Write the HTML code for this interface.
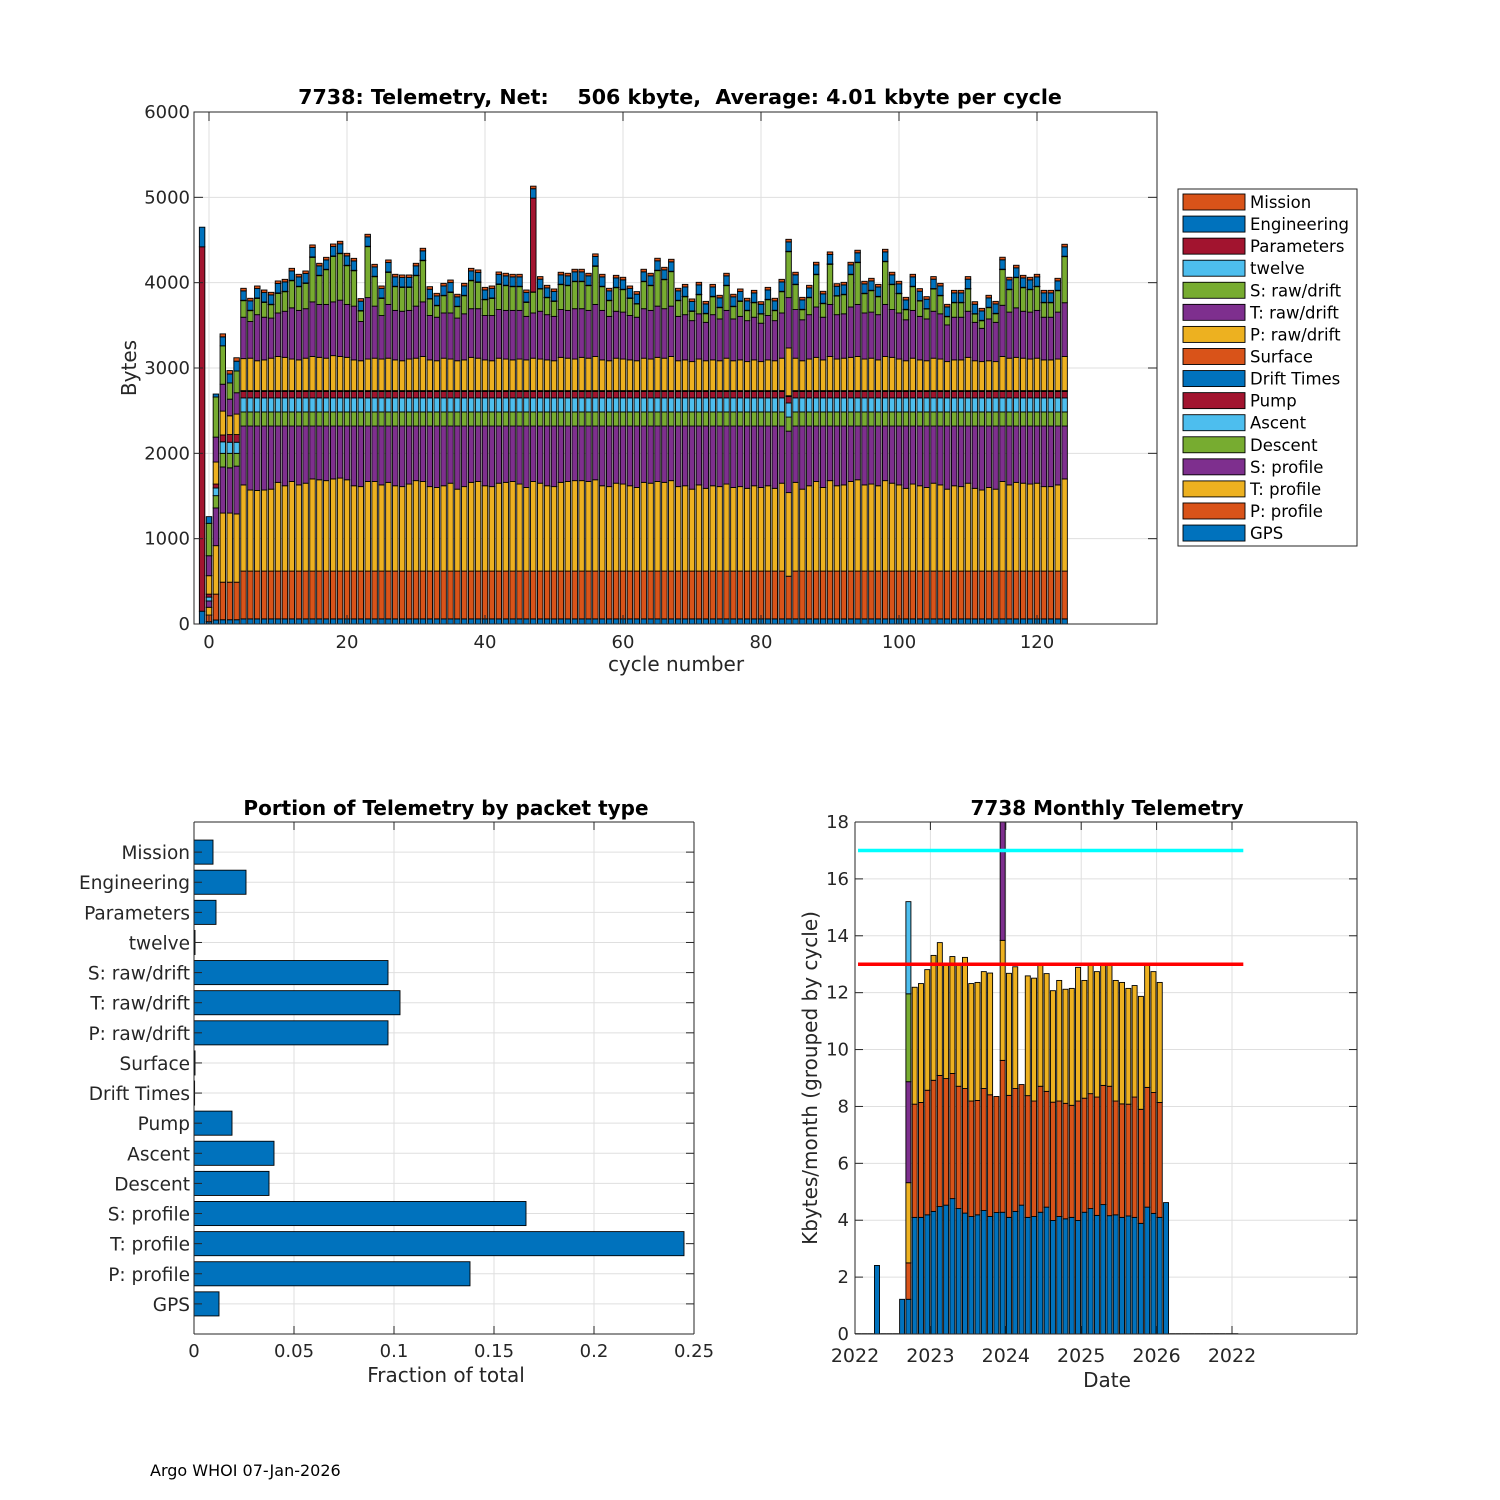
<!DOCTYPE html>
<html><head><meta charset="utf-8"><style>
html,body{margin:0;padding:0;background:#fff;}
svg{display:block;font-family:"DejaVu Sans","Liberation Sans",sans-serif;}
</style></head><body>
<svg id="fig" width="1500" height="1500" viewBox="0 0 1500 1500" xmlns="http://www.w3.org/2000/svg">
<rect x="0" y="0" width="1500" height="1500" fill="#fff"/>
<defs>
<clipPath id="clipR"><rect x="855" y="822" width="502" height="512"/></clipPath>
</defs>
<g id="top"></g>
<g id="bl"></g>
<g id="br"></g>
<text x="150" y="1476" font-size="16" fill="#000">Argo WHOI 07-Jan-2026</text>
</svg>
<script>
// ===== Top chart data (cycles -1..124) =====
const gps=[150,27,47,50,50,50,
60,60,60,60,60,60,60,60,60,60,60,60,60,60,60,60,60,60,60,60,
60,60,60,60,60,60,60,60,60,60,60,60,60,60,60,60,60,60,60,60,
60,60,60,60,60,60,60,60,60,60,60,60,60,60,60,60,60,60,60,60,
60,60,60,60,60,60,60,60,60,60,60,60,60,60,60,60,60,60,60,60,
60,60,60,60,60,60,60,60,60,60,60,60,60,60,60,60,60,60,60,60,
60,60,60,60,60,60,60,60,60,60,60,60,60,60,60,60,60,60,60,60];
const pProf=[0,78,303,440,440,440,
560,560,560,560,560,560,560,560,560,560,560,560,560,560,560,560,560,560,560,560,
560,560,560,560,560,560,560,560,560,560,560,560,560,560,560,560,560,560,560,560,
560,560,560,560,560,560,560,560,560,560,560,560,560,560,560,560,560,560,560,560,
560,560,560,560,560,560,560,560,560,560,560,560,560,560,560,560,560,560,560,500,
560,560,560,560,560,560,560,560,560,560,560,560,560,560,560,560,560,560,560,560,
560,560,560,560,560,560,560,560,560,560,560,560,560,560,560,560,560,560,560,560];
const tProf=[0,91,568,810,810,800,
1010,950,945,950,960,1040,1000,1050,1010,1030,1080,1070,1060,1080,1090,1070,1000,990,1050,1050,
1010,1040,1000,990,1020,1060,1050,990,980,1000,1030,960,990,1040,1050,1000,990,1030,1040,1050,
1020,980,1050,1030,1000,990,1040,1050,1060,1060,1050,1070,1000,990,1030,1020,1000,980,1040,1030,
1050,1040,1060,990,1000,960,1010,970,1000,990,1020,980,990,970,1000,980,1000,970,1030,980,
1040,960,1000,1050,980,1060,1000,1010,1050,1070,1010,1020,1000,1060,1030,1010,970,1020,1000,980,
1030,1010,960,1000,990,1030,970,950,980,960,1050,1010,1040,1030,1020,1030,990,990,1010,1080];
const sProf=[0,74,442,540,530,560,
690,750,755,750,740,660,700,650,690,670,620,630,640,620,610,630,700,710,650,650,
690,660,700,710,680,640,650,710,720,700,670,740,710,660,650,700,710,670,660,650,
680,720,650,670,700,710,660,650,640,640,650,630,700,710,670,680,700,720,660,670,
650,660,640,710,700,740,690,730,700,710,680,720,710,730,700,720,700,730,670,720,
660,740,700,650,720,640,700,690,650,630,690,680,700,640,670,690,730,680,700,720,
670,690,740,700,710,670,730,750,720,740,650,690,660,670,680,670,710,710,690,620];
const descent=[0,0,144,160,170,150,
165,165,165,165,165,165,165,165,165,165,165,165,165,165,165,165,165,165,165,165,
165,165,165,165,165,165,165,165,165,165,165,165,165,165,165,165,165,165,165,165,
165,165,165,165,165,165,165,165,165,165,165,165,165,165,165,165,165,165,165,165,
165,165,165,165,165,165,165,165,165,165,165,165,165,165,165,165,165,165,165,165,
165,165,165,165,165,165,165,165,165,165,165,165,165,165,165,165,165,165,165,165,
165,165,165,165,165,165,165,165,165,165,165,165,165,165,165,165,165,165,165,165];
const ascent=[0,45,90,135,130,130,
165,165,165,165,165,165,165,165,165,165,165,165,165,165,165,165,165,165,165,165,
165,165,165,165,165,165,165,165,165,165,165,165,165,165,165,165,165,165,165,165,
165,165,165,165,165,165,165,165,165,165,165,165,165,165,165,165,165,165,165,165,
165,165,165,165,165,165,165,165,165,165,165,165,165,165,165,165,165,165,165,165,
165,165,165,165,165,165,165,165,165,165,165,165,165,165,165,165,165,165,165,165,
165,165,165,165,165,165,165,165,165,165,165,165,165,165,165,165,165,165,165,165];
const pump=[0,35,46,80,90,90,
75,75,75,75,75,75,75,75,75,75,75,75,75,75,75,75,75,75,75,75,
75,75,75,75,75,75,75,75,75,75,75,75,75,75,75,75,75,75,75,75,
75,75,75,75,75,75,75,75,75,75,75,75,75,75,75,75,75,75,75,75,
75,75,75,75,75,75,75,75,75,75,75,75,75,75,75,75,75,75,75,75,
75,75,75,75,75,75,75,75,75,75,75,75,75,75,75,75,75,75,75,75,
75,75,75,75,75,75,75,75,75,75,75,75,75,75,75,75,75,75,75,75];
const drift=[0,0,0,0,0,0,
5,5,5,5,5,5,5,5,5,5,5,5,5,5,5,5,5,5,5,5,
5,5,5,5,5,5,5,5,5,5,5,5,5,5,5,5,5,5,5,5,
5,5,5,5,5,5,5,5,5,5,5,5,5,5,5,5,5,5,5,5,
5,5,5,5,5,5,5,5,5,5,5,5,5,5,5,5,5,5,5,5,
5,5,5,5,5,5,5,5,5,5,5,5,5,5,5,5,5,5,5,5,
5,5,5,5,5,5,5,5,5,5,5,5,5,5,5,5,5,5,5,5];
const surface=[0,0,0,0,0,0,
5,5,5,5,5,5,5,5,5,5,5,5,5,5,5,5,5,5,5,5,
5,5,5,5,5,5,5,5,5,5,5,5,5,5,5,5,5,5,5,5,
5,5,5,5,5,5,5,5,5,5,5,5,5,5,5,5,5,5,5,5,
5,5,5,5,5,5,5,5,5,5,5,5,5,5,5,5,5,5,5,5,
5,5,5,5,5,5,5,5,5,5,5,5,5,5,5,5,5,5,5,5,
5,5,5,5,5,5,5,5,5,5,5,5,5,5,5,5,5,5,5,5];
const pRaw=[0,216,258,280,220,240,
375,380,350,360,380,400,390,370,360,380,400,390,380,410,400,390,360,350,370,380,
370,380,360,350,370,380,400,360,350,380,370,350,360,390,380,360,350,380,370,360,
370,360,380,370,360,350,390,380,370,390,380,400,360,350,380,370,360,350,380,370,
390,380,400,350,360,340,370,350,360,350,380,350,360,340,360,340,360,350,380,560,
380,350,370,390,360,400,370,380,390,400,370,380,360,400,390,370,350,380,360,350,
380,370,340,360,360,390,350,340,350,340,400,380,390,380,370,380,360,360,370,400];
const tRaw=[0,234,292,315,195,250,
485,430,540,500,470,510,540,600,580,580,640,620,630,630,660,620,630,460,720,610,
510,630,580,580,570,610,640,520,510,530,540,500,540,570,580,520,530,570,570,580,
570,510,530,560,530,520,560,560,590,570,560,610,580,520,550,550,520,510,580,570,
600,580,590,520,530,480,530,450,530,490,560,490,510,480,500,450,520,470,530,590,
570,480,520,590,500,610,520,520,590,610,540,540,530,610,560,540,480,560,510,490,
550,530,430,500,500,540,450,390,490,460,600,540,580,550,550,560,500,500,550,630];
const sRaw=[0,380,470,450,190,255,
194,127,191,174,157,230,229,318,278,297,522,337,407,533,545,454,415,123,597,345,
201,376,278,280,270,357,483,193,135,202,241,134,212,328,309,185,201,295,290,278,
278,164,243,261,199,176,292,290,317,317,290,447,278,184,276,263,201,155,317,290,
416,340,404,184,210,109,224,101,210,132,290,144,176,117,170,107,185,117,249,538,
292,118,199,379,159,470,218,224,379,490,226,251,210,501,292,226,118,278,180,116,
261,212,96,170,170,261,97,89,132,101,418,263,354,276,263,278,170,170,251,540];
const twelve=[0,0,0,0,0,0,
3,3,3,3,3,3,3,3,3,3,3,3,3,3,3,3,3,3,3,3,
3,3,3,3,3,3,3,3,3,3,3,3,3,3,3,3,3,3,3,3,
3,3,3,3,3,3,3,3,3,3,3,3,3,3,3,3,3,3,3,3,
3,3,3,3,3,3,3,3,3,3,3,3,3,3,3,3,3,3,3,3,
3,3,3,3,3,3,3,3,3,3,3,3,3,3,3,3,3,3,3,3,
3,3,3,3,3,3,3,3,3,3,3,3,3,3,3,3,3,3,3,3];
const params=[4270,0,0,0,0,0,
2,2,2,2,2,2,2,2,2,2,2,2,2,2,2,2,2,2,2,2,
2,2,2,2,2,2,2,2,2,2,2,2,2,2,2,2,2,2,2,2,
2,2,1100,2,2,2,2,2,2,2,2,2,2,2,2,2,2,2,2,2,
2,2,2,2,2,2,2,2,2,2,2,2,2,2,2,2,2,2,2,2,
2,2,2,2,2,2,2,2,2,2,2,2,2,2,2,2,2,2,2,2,
2,2,2,2,2,2,2,2,2,2,2,2,2,2,2,2,2,2,2,2];
const eng=[230,78,35,105,105,115,
110,110,110,110,110,110,110,110,110,110,110,110,110,110,110,110,110,110,110,110,
110,110,110,110,110,110,110,110,110,110,110,110,110,110,110,110,110,110,110,110,
110,110,110,110,110,110,110,110,110,110,110,110,110,110,110,110,110,110,110,110,
110,110,110,110,110,110,110,110,110,110,110,110,110,110,110,110,110,110,110,110,
110,110,110,110,110,110,110,110,110,110,110,110,110,110,110,110,110,110,110,110,
110,110,110,110,110,110,110,110,110,110,110,110,110,110,110,110,110,110,110,110];
const mission=[0,0,0,35,40,40,
30,30,30,30,30,30,30,30,30,30,30,30,30,30,30,30,30,30,30,30,
30,30,30,30,30,30,30,30,30,30,30,30,30,30,30,30,30,30,30,30,
30,30,30,30,30,30,30,30,30,30,30,30,30,30,30,30,30,30,30,30,
30,30,30,30,30,30,30,30,30,30,30,30,30,30,30,30,30,30,30,30,
30,30,30,30,30,30,30,30,30,30,30,30,30,30,30,30,30,30,30,30,
30,30,30,30,30,30,30,30,30,30,30,30,30,30,30,30,30,30,30,30];
const firstCycle=-1;
const topYTicks=[0,1000,2000,3000,4000,5000,6000];
const topXTicks=[0,20,40,60,80,100,120];
const legendLabels=["Mission","Engineering","Parameters","twelve","S: raw/drift","T: raw/drift","P: raw/drift","Surface","Drift Times","Pump","Ascent","Descent","S: profile","T: profile","P: profile","GPS"];

// ===== Bottom-left data =====
const packetTypes=["GPS","P: profile","T: profile","S: profile","Descent","Ascent","Pump","Drift Times","Surface","P: raw/drift","T: raw/drift","S: raw/drift","twelve","Parameters","Engineering","Mission"];
const fractions=[0.0125,0.138,0.245,0.166,0.0375,0.040,0.019,0.0003,0.0005,0.097,0.103,0.097,0.0005,0.011,0.026,0.0095];
const fracTicks=[0,0.05,0.1,0.15,0.2,0.25];
const fracTickLabels=["0","0.05","0.1","0.15","0.2","0.25"];

// ===== Bottom-right data (months from Jan 2022) =====
const monthStartYear=2022;
const mBlue=[0,0,0,2.41,0,0,0,1.22,1.22,4.10,4.10,4.19,4.31,4.48,4.53,4.76,4.41,4.25,4.13,4.19,4.34,4.13,4.27,4.28,4.10,4.31,4.53,4.10,4.13,4.28,4.46,3.99,4.13,4.05,4.10,3.99,4.28,4.41,4.17,4.55,4.16,4.19,4.10,4.15,4.10,3.89,4.46,4.24,4.10,4.62,0,0,0,0,0,0,0,0,0,0,0];
const mOrange=[0,0,0,0,0,0,0,0,1.28,3.98,4.04,4.38,4.61,4.61,4.45,4.40,4.30,4.38,4.06,4.02,4.29,4.28,4.08,5.34,4.29,4.32,4.24,4.28,4.06,4.43,4.07,4.16,4.06,4.06,3.94,4.20,4.01,4.04,4.16,4.19,4.55,4.00,3.99,3.93,4.23,4.01,4.21,4.25,4.04,0,0,0,0,0,0,0,0,0,0,0,0];
const mYellow=[0,0,0,0,0,0,0,0,2.82,4.11,4.18,4.24,4.39,4.67,4.01,4.11,4.29,4.61,4.13,4.15,4.11,4.28,0,4.22,4.29,4.28,0,4.21,4.32,4.28,4.14,3.92,4.24,4.01,4.11,4.70,4.14,4.54,4.41,4.25,4.28,4.24,4.27,4.07,3.92,3.97,4.32,4.25,4.22,0,0,0,0,0,0,0,0,0,0,0,0];
const mPurple=[0,0,0,0,0,0,0,0,3.55,0,0,0,0,0,0,0,0,0,0,0,0,0,0,6.0,0,0,0,0,0,0,0,0,0,0,0,0,0,0,0,0,0,0,0,0,0,0,0,0,0,0,0,0,0,0,0,0,0,0,0,0,0];
const mGreen=[0,0,0,0,0,0,0,0,3.09,0,0,0,0,0,0,0,0,0,0,0,0,0,0,0,0,0,0,0,0,0,0,0,0,0,0,0,0,0,0,0,0,0,0,0,0,0,0,0,0,0,0,0,0,0,0,0,0,0,0,0,0];
const mLight=[0,0,0,0,0,0,0,0,3.24,0,0,0,0,0,0,0,0,0,0,0,0,0,0,0,0,0,0,0,0,0,0,0,0,0,0,0,0,0,0,0,0,0,0,0,0,0,0,0,0,0,0,0,0,0,0,0,0,0,0,0,0];
const limitRed=13;
const limitCyan=17;
const monthYTicks=[0,2,4,6,8,10,12,14,16,18];
const yearTicks=[2022,2023,2024,2025,2026,2027];
const yearTickLabels=["2022","2023","2024","2025","2026","2022"];

// ===== drawing =====
const NS='http://www.w3.org/2000/svg';
const C={blue:'#0072BD',orange:'#D95319',yellow:'#EDB120',purple:'#7E2F8E',green:'#77AC30',light:'#4DBEEE',red:'#A2142F'};
function mk(tag,attrs,name,parent){
  const el=document.createElementNS(NS,tag);
  for(const k in attrs) el.setAttribute(k,attrs[k]);
  
  
  parent.appendChild(el);
  return el;
}
function txt(x,y,s,size,anchor,name,parent,extra){
  const a={x:x,y:y,'font-size':size,'text-anchor':anchor,fill:'#262626'};
  if(extra) for(const k in extra) a[k]=extra[k];
  const t=mk('text',a,name,parent);
  t.textContent=s;
  return t;
}
const GRID='#dfdfdf', AX='#262626';

// ---- Top chart ----
(function(){
  const g=document.getElementById('top');
  const L=194,R=1157,T=112,B=624;
  const X=c=>209+c*6.9;
  const Y=v=>B-v*(B-T)/6000;
  mk('rect',{x:L,y:T,width:R-L,height:B-T,fill:'#fff'},'plot-area',g);
  topXTicks.forEach(t=>{mk('line',{x1:X(t),x2:X(t),y1:T,y2:B,stroke:GRID,'stroke-width':1},'x-grid-line',g);});
  topYTicks.forEach(t=>{mk('line',{x1:L,x2:R,y1:Y(t),y2:Y(t),stroke:GRID,'stroke-width':1},'y-grid-line',g);});
  const series=[gps,pProf,tProf,sProf,descent,ascent,pump,drift,surface,pRaw,tRaw,sRaw,twelve,params,eng,mission];
  const names=['gps','p-profile','t-profile','s-profile','descent','ascent','pump','drift-times','surface','p-raw-drift','t-raw-drift','s-raw-drift','twelve','parameters','engineering','mission'];
  const cols=[C.blue,C.orange,C.yellow,C.purple,C.green,C.light,C.red,C.blue,C.orange,C.yellow,C.purple,C.green,C.light,C.red,C.blue,C.orange];
  const w=5.5;
  for(let i=0;i<gps.length;i++){
    const c=firstCycle+i;
    let cum=0;
    for(let s=0;s<series.length;s++){
      const h=series[s][i];
      if(h>0){
        const r=mk('rect',{x:X(c)-w/2,y:Y(cum+h),width:w,height:Y(cum)-Y(cum+h),fill:cols[s],stroke:'#000','stroke-width':0.9},'bar-segment',g);
        
      }
      cum+=h;
    }
  }
  mk('rect',{x:L,y:T,width:R-L,height:B-T,fill:'none',stroke:AX,'stroke-width':1},'axes-box',g);
  topXTicks.forEach(t=>{
    mk('line',{x1:X(t),x2:X(t),y1:B,y2:B-9,stroke:AX},'x-tick',g);
    mk('line',{x1:X(t),x2:X(t),y1:T,y2:T+9,stroke:AX},'x-tick-top',g);
    txt(X(t),B+24,String(t),18,'middle','x-tick-label',g);
  });
  topYTicks.forEach(t=>{
    mk('line',{x1:L,x2:L+9,y1:Y(t),y2:Y(t),stroke:AX},'y-tick',g);
    mk('line',{x1:R,x2:R-9,y1:Y(t),y2:Y(t),stroke:AX},'y-tick-right',g);
    txt(L-4,Y(t)+6,String(t),18,'end','y-tick-label',g);
  });
  const tt=txt(680,104,'7738: Telemetry, Net:    506 kbyte,  Average: 4.01 kbyte per cycle',20.6,'middle','chart-title',g,{'font-weight':'bold',fill:'#000'});
  tt.style.whiteSpace='pre';
  txt(676,671,'cycle number',20,'middle','x-axis-title',g);
  txt(0,0,'Bytes',20,'middle','y-axis-title',g,{transform:'translate(136 368) rotate(-90)'});
  // legend
  const lg=mk('g',{},'legend',g);
  mk('rect',{x:1178,y:189,width:179,height:357,fill:'#fff',stroke:AX,'stroke-width':1},'legend-box',lg);
  const legCols=[C.orange,C.blue,C.red,C.light,C.green,C.purple,C.yellow,C.orange,C.blue,C.red,C.light,C.green,C.purple,C.yellow,C.orange,C.blue];
  legendLabels.forEach((lab,k)=>{
    const yy=202+k*22.07;
    mk('rect',{x:1183,y:yy-8,width:62,height:16,fill:legCols[k],stroke:'#000','stroke-width':0.9},'legend-swatch',lg);
    txt(1250,yy+6,lab,16.5,'start','legend-entry',lg,{fill:'#000'});
  });
})();

// ---- Bottom-left chart ----
(function(){
  const g=document.getElementById('bl');
  const L=194,R=694,T=822,B=1334;
  const X=v=>L+v*(R-L)/0.25;
  const Y=k=>B-k*(B-T)/17;
  fracTicks.forEach(t=>{mk('line',{x1:X(t),x2:X(t),y1:T,y2:B,stroke:GRID},'x-grid-line',g);});
  packetTypes.forEach((p,k)=>{mk('line',{x1:L,x2:R,y1:Y(k+1),y2:Y(k+1),stroke:GRID},'y-grid-line',g);});
  const bh=0.8*(B-T)/17;
  packetTypes.forEach((p,k)=>{
    const r=mk('rect',{x:L,y:Y(k+1)-bh/2,width:X(fractions[k])-L,height:bh,fill:C.blue,stroke:'#000','stroke-width':0.9},'bar',g);
    
    mk('line',{x1:L,x2:L+8,y1:Y(k+1),y2:Y(k+1),stroke:AX},'y-tick',g);
    mk('line',{x1:R,x2:R-8,y1:Y(k+1),y2:Y(k+1),stroke:AX},'y-tick-right',g);
    txt(L-4,Y(k+1)+7,p,18.5,'end','y-tick-label',g);
  });
  mk('line',{x1:L,x2:L,y1:T,y2:B,stroke:AX},'y-axis-line',g);
  mk('line',{x1:L,x2:R,y1:B,y2:B,stroke:AX},'x-axis-line',g);
  mk('line',{x1:L,x2:R,y1:T,y2:T,stroke:AX},'top-axis-line',g);
  mk('line',{x1:R,x2:R,y1:T,y2:B,stroke:AX},'right-axis-line',g);
  fracTicks.forEach((t,i)=>{
    mk('line',{x1:X(t),x2:X(t),y1:B,y2:B-8,stroke:AX},'x-tick',g);
    mk('line',{x1:X(t),x2:X(t),y1:T,y2:T+8,stroke:AX},'x-tick-top',g);
    txt(X(t),B+23,fracTickLabels[i],18,'middle','x-tick-label',g);
  });
  txt(446,815,'Portion of Telemetry by packet type',20,'middle','chart-title',g,{'font-weight':'bold',fill:'#000'});
  txt(446,1382,'Fraction of total',20,'middle','x-axis-title',g);
})();

// ---- Bottom-right chart ----
(function(){
  const g=document.getElementById('br');
  const L=855,R=1357,T=822,B=1334;
  const X=yr=>L+(yr-2022)*75.4;
  const Y=v=>B-v*(B-T)/18;
  yearTicks.forEach(t=>{mk('line',{x1:X(t),x2:X(t),y1:T,y2:B,stroke:GRID},'x-grid-line',g);});
  monthYTicks.forEach(t=>{mk('line',{x1:L,x2:R,y1:Y(t),y2:Y(t),stroke:GRID},'y-grid-line',g);});
  const cg=mk('g',{'clip-path':'url(#clipR)'},'monthly-bars',g);
  const series=[mBlue,mOrange,mYellow,mPurple,mGreen,mLight];
  const cols=[C.blue,C.orange,C.yellow,C.purple,C.green,C.light];
  const w=0.8*75.4/12;
  for(let m=0;m<mBlue.length;m++){
    const xc=X(monthStartYear+(m+0.5)/12);
    let cum=0, any=false;
    for(let s=0;s<series.length;s++){
      const h=series[s][m];
      if(h>0){
        any=true;
        mk('rect',{x:xc-w/2,y:Y(cum+h),width:w,height:Y(cum)-Y(cum+h),fill:cols[s],stroke:'#000','stroke-width':0.9},'month-bar-segment',cg);
      }
      cum+=h;
    }
    if(!any){
      mk('line',{x1:xc-w/2-0.6,x2:xc+w/2+0.6,y1:B,y2:B,stroke:'#000','stroke-width':1.6},'month-zero-bar',cg);
    }
  }
  const x0=X(monthStartYear+0.04), x1=X(monthStartYear+5.15);
  mk('line',{x1:x0,x2:x1,y1:Y(limitRed),y2:Y(limitRed),stroke:'#ff0000','stroke-width':3.5},'limit-line-red',g);
  mk('line',{x1:x0,x2:x1,y1:Y(limitCyan),y2:Y(limitCyan),stroke:'#00ffff','stroke-width':3.5},'limit-line-cyan',g);
  mk('line',{x1:L,x2:L,y1:T,y2:B,stroke:AX},'y-axis-line',g);
  mk('line',{x1:L,x2:R,y1:B,y2:B,stroke:AX},'x-axis-line',g);
  mk('line',{x1:L,x2:R,y1:T,y2:T,stroke:AX},'top-axis-line',g);
  mk('line',{x1:R,x2:R,y1:T,y2:B,stroke:AX},'right-axis-line',g);
  monthYTicks.forEach(t=>{
    mk('line',{x1:L,x2:L+8,y1:Y(t),y2:Y(t),stroke:AX},'y-tick',g);
    mk('line',{x1:R,x2:R-8,y1:Y(t),y2:Y(t),stroke:AX},'y-tick-right',g);
    txt(L-6,Y(t)+6,String(t),18,'end','y-tick-label',g);
  });
  yearTicks.forEach((t,i)=>{
    mk('line',{x1:X(t),x2:X(t),y1:B,y2:B-8,stroke:AX},'x-tick',g);
    mk('line',{x1:X(t),x2:X(t),y1:T,y2:T+8,stroke:AX},'x-tick-top',g);
    txt(X(t),B+28,yearTickLabels[i],19,'middle','x-tick-label',g);
  });
  txt(1107,815,'7738 Monthly Telemetry',20,'middle','chart-title',g,{'font-weight':'bold',fill:'#000'});
  txt(1107,1387,'Date',20,'middle','x-axis-title',g);
  txt(0,0,'Kbytes/month (grouped by cycle)',20,'middle','y-axis-title',g,{transform:'translate(817 1078) rotate(-90)'});
})();
</script>
</body></html>
